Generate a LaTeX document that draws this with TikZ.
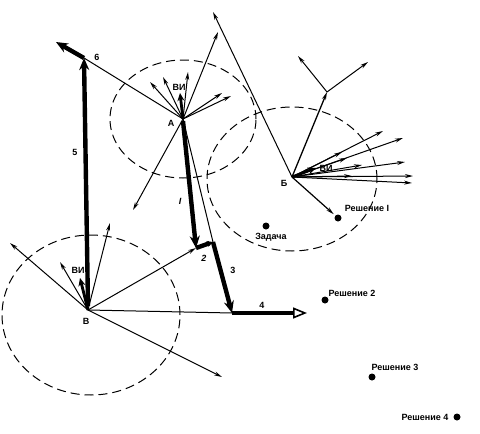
\documentclass[tikz,border=0pt]{standalone}
\usepackage{fontspec}
\setmainfont{Liberation Sans}
\usetikzlibrary{arrows.meta}
\begin{document}
\begin{tikzpicture}[x=1pt,y=-1pt,
  zone/.style={line width=1pt, dash pattern=on 9pt off 5pt},
  thinarr/.style={line width=1pt, -{Stealth[length=8pt,width=4pt]}},
  plainline/.style={line width=1pt},
  heavy/.style={line width=4.4pt, -{Stealth[length=12pt,width=10pt]}},
  viarr/.style={line width=2.8pt, -{Stealth[length=8pt,width=7pt]}},
  lbl/.style={font=\bfseries\fontsize{9}{10}\selectfont, inner sep=1pt},
  dot/.style={circle, fill, inner sep=0pt, minimum size=7pt}]
\useasboundingbox (0,0) rectangle (480,434);

% key points
\coordinate (A) at (183,119);
\coordinate (B) at (292,177);
\coordinate (V) at (88,310);
\coordinate (j56) at (84,58);
\coordinate (j12) at (196,248);
\coordinate (j23) at (213,242);
\coordinate (j34) at (232,313);

% zones
\draw[zone] (183,119) ellipse [x radius=73pt, y radius=59pt];
\draw[zone] (292,179) ellipse [x radius=85pt, y radius=72pt];
\draw[zone] (91,315) ellipse [x radius=89pt, y radius=80pt];

% dots
\node[dot] (zad) at (266,226) {};
\node[dot] (r1) at (338,218) {};
\node[dot] (r2) at (325,300) {};
\node[dot] (r3) at (372,377) {};
\node[dot] (r4) at (457,417) {};

% vectors at A
\coordinate (a1) at (218,32);
\coordinate (a2) at (133,210);
\coordinate (a3) at (150,82);
\coordinate (a4) at (163,77);
\coordinate (a5) at (188,72);
\coordinate (a6) at (222,93);
\coordinate (a7) at (231,96);
\coordinate (avi) at (180,93);
\foreach \p in {a1,a2,a3,a4,a5,a6,a7} \draw[thinarr] (A) -- (\p);
\draw[plainline] (A) -- (j56);
\draw[plainline] (A) -- (j23);
\draw[viarr] (A) -- (avi);

% vectors at B
\coordinate (b0) at (213,12);
\coordinate (bk) at (327,92);
\coordinate (bk1) at (298,56);
\coordinate (bk2) at (368,62);
\draw[thinarr] (B) -- (b0);
\draw[thinarr, line width=1.3pt] (B) -- (bk);
\draw[thinarr] (bk) -- (bk1);
\draw[thinarr] (bk) -- (bk2);
\draw[thinarr, line width=1.2pt, shorten >=2pt] (B) -- (r1);
\coordinate (b1) at (383,131);
\coordinate (b2) at (403,138);
\coordinate (b3) at (342,152);
\coordinate (b4) at (362,165);
\coordinate (b5) at (405,162);
\coordinate (b6) at (413,176);
\coordinate (b7) at (412,183);
\coordinate (b8) at (347,158);
\coordinate (b9) at (352,176);
\foreach \p in {b1,b2,b3,b4,b5,b6,b7,b8,b9} \draw[thinarr] (B) -- (\p);
\coordinate (bvi) at (316,168);
\draw[viarr] (B) -- (bvi);

% vectors at V
\coordinate (v1) at (10,243);
\coordinate (v2) at (60,262);
\coordinate (v3) at (110,223);
\coordinate (v4) at (222,377);
\coordinate (vvi) at (80,278);
\foreach \p in {v1,v2,v3,v4} \draw[thinarr] (V) -- (\p);
\draw[thinarr] (V) -- (j12);
\draw[plainline] (V) -- (j34);
\draw[viarr] (V) -- (vvi);

% heavy path
\coordinate (v5) at (88,306);
\coordinate (e6) at (56,42);
\coordinate (e4) at (307,313);
\coordinate (a0) at (183,121);
\draw[heavy] (v5) -- (j56);
\draw[heavy] (j56) -- (e6);
\draw[heavy] (a0) -- (j12);
\draw[line width=4.4pt, -{Stealth[length=6pt,width=6pt]}] (j12) -- (j23);
\draw[heavy] (j23) -- (j34);
\draw[line width=4.4pt, -{Triangle[open,length=14pt,width=11pt,line width=1.6pt]}] (j34) -- (e4);

% labels
\node[lbl] (lA) at (171,123) {А};
\node[lbl] (lAvi) at (179,87) {ВИ};
\node[lbl] (lB) at (284,183) {Б};
\node[lbl] (lBvi) at (326,168) {ВИ};
\node[lbl] (lV) at (86,321) {В};
\node[lbl] (lVvi) at (78,270) {ВИ};
\node[lbl] (l5) at (75,152) {5};
\node[lbl] (l6) at (97,57) {6};
\node[lbl] (l1) at (180,201) {\itshape I};
\node[lbl] (l2) at (204,258) {\itshape 2};
\node[lbl] (l3) at (233,270) {3};
\node[lbl] (l4) at (262,305) {4};
\node[lbl] (lzad) at (271,237) {Задача};
\node[lbl] (lr1) at (367,208) {Решение I};
\node[lbl] (lr2) at (352,293) {Решение 2};
\node[lbl] (lr3) at (395,367) {Решение 3};
\node[lbl] (lr4) at (425,417) {Решение 4};
\end{tikzpicture}
\end{document}
